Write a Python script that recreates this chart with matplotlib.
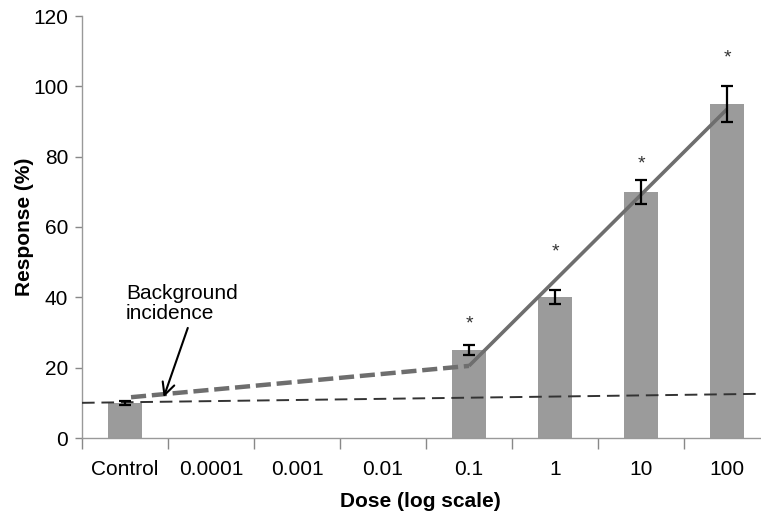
import numpy as np
import matplotlib.pyplot as plt

plt.rcParams['font.family'] = ['Liberation Sans', 'DejaVu Sans']

# data
doses = ['Control', '0.0001', '0.001', '0.01', '0.1', '1', '10', '100']
response = [10, None, None, None, 25, 40, 70, 95]
errors = [0.5, None, None, None, 1.5, 2, 3.5, 5]
star_y = [None, None, None, None, 32.5, 53, 78, 108]
# fitted curve (thick): dashed low-dose part, solid high-dose part
low_x = [0.07, 4.0]
low_y = [11.6, 20.5]
high_x = [4.0, 7.0]
high_y = [20.5, 93.5]
# background incidence line
bg_x = [-0.5, 7.5]
bg_y = [10.0, 12.6]

fig = plt.figure(figsize=(7.61, 5.14), dpi=100)
ax = fig.add_axes([82 / 761, 76 / 514, 688 / 761, 422 / 514])

idx = [i for i, v in enumerate(response) if v is not None]
vals = [response[i] for i in idx]
errs = [errors[i] for i in idx]
ax.bar(idx, vals, width=0.4, color='#9b9b9b', zorder=2)
ax.errorbar(idx, vals, yerr=errs, fmt='none', ecolor='black', elinewidth=1.6,
            capsize=4, capthick=1.6, zorder=4)

ax.plot(bg_x, bg_y, color='#333333', lw=1.4, ls=(0, (6.5, 3.5)), zorder=3)
ax.plot(low_x, low_y, color='#6e6e6e', lw=3.2, ls=(0, (3.4, 1.3)), zorder=3)
ax.plot(high_x, high_y, color='#6e6e6e', lw=2.6, solid_capstyle='butt', zorder=3)

for i, s in enumerate(star_y):
    if s is not None:
        ax.text(i, s, '*', ha='center', va='center', fontsize=14, color='#333333')

ax.text(0.01, 38.2, 'Background\nincidence', fontsize=15, ha='left', va='center',
        linespacing=1.05)
ax.annotate('', xy=(0.45, 11.6), xytext=(0.73, 31.3),
            arrowprops=dict(arrowstyle='->', color='black', lw=1.5,
                            mutation_scale=22, shrinkA=0, shrinkB=0))

ax.set_xlim(-0.5, 7.5)
ax.set_ylim(0, 120)
ax.set_yticks(np.arange(0, 121, 20))
ax.set_xticks(np.arange(-0.5, 7.6, 1))
ax.set_xticklabels([])
ax.set_xticks(range(len(doses)), minor=True)
ax.set_xticklabels(doses, minor=True)
ax.tick_params(axis='x', which='major', length=8, width=1, color='#888888', direction='out')
ax.tick_params(axis='x', which='minor', length=0, pad=16, labelsize=15)
ax.tick_params(axis='y', length=5, width=1, color='#888888', pad=5, labelsize=15)

for sp in ['top', 'right']:
    ax.spines[sp].set_visible(False)
for sp in ['left', 'bottom']:
    ax.spines[sp].set_color('#999999')
    ax.spines[sp].set_linewidth(1)

ax.set_ylabel('Response (%)', fontsize=15, fontweight='bold')
ax.yaxis.set_label_coords(-48 / 688, 0.5)
ax.set_xlabel('Dose (log scale)', fontsize=15, fontweight='bold')
ax.xaxis.set_label_coords((420 - 82) / 688, -54 / 422)

fig.savefig('out.png', dpi=100)
